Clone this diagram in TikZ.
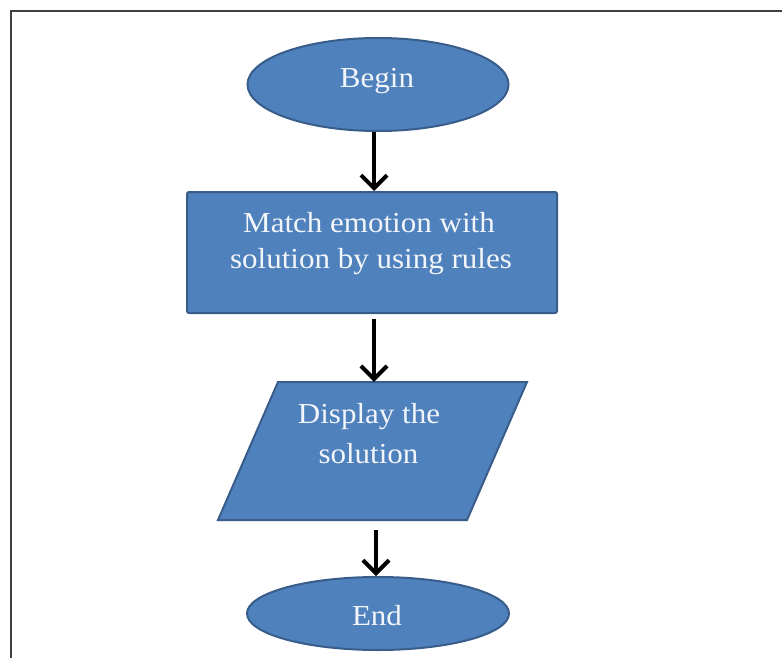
\documentclass[tikz,border=0pt]{standalone}
\usepackage{fontspec}
\setmainfont[FakeStretch=1.07]{Liberation Serif}
\usetikzlibrary{shapes.geometric,arrows.meta}
\definecolor{boxfill}{HTML}{4F81BD}
\definecolor{boxline}{HTML}{385D8A}
\definecolor{frameline}{HTML}{404040}
\definecolor{txt}{HTML}{F2F5FA}
\begin{document}
\begin{tikzpicture}[x=1pt,y=-1pt,
  shapebox/.style={fill=boxfill, draw=boxline, line width=2pt},
  lbl/.style={text=txt, font=\fontsize{29}{36}\selectfont, inner sep=0pt, anchor=base},
  arr/.style={line width=4pt, -{Straight Barb[length=13pt,width=26pt]}}]
\useasboundingbox (0,0) rectangle (782,658);
\fill[white] (0,0) rectangle (782,658);
\draw[frameline, line width=2.5pt] (11,658) -- (11,11) -- (782,11);

% Begin
\node[shapebox, ellipse, minimum width=261pt, minimum height=93pt, inner sep=0pt] (begin) at (378,84.5) {};
\node[lbl] (begintxt) at (377,88) {Begin};

% Process box
\node[shapebox, rectangle, rounded corners=2pt, minimum width=370pt, minimum height=121pt, inner sep=0pt] (match) at (372,252.5) {};
\node[lbl] (matchtxta) at (369,232) {Match emotion with};
\node[lbl] (matchtxtb) at (371,268) {solution by using rules};

% Display parallelogram
\node[minimum width=309pt, minimum height=138pt, inner sep=0pt] (disp) at (372.5,451) {};
\draw[shapebox] (278,382) -- (527,382) -- (467,520) -- (218,520) -- cycle;
\node[lbl] (disptxta) at (369,423) {Display the};
\node[lbl] (disptxtb) at (368.5,463) {solution};

% End
\node[shapebox, ellipse, minimum width=262pt, minimum height=73pt, inner sep=0pt] (stop) at (378,613.5) {};
\node[lbl] (stoptxt) at (377,625) {End};

% Arrows
\draw[arr] ([xshift=-4pt]begin.south) -- ([xshift=2pt]match.north);
\draw[arr] ([xshift=2pt,yshift=-5pt]match.south) -- ([xshift=1.5pt]disp.north);
\draw[arr] ([xshift=3.5pt,yshift=-10pt]disp.south) -- ([xshift=-2pt]stop.north);
\end{tikzpicture}
\end{document}
